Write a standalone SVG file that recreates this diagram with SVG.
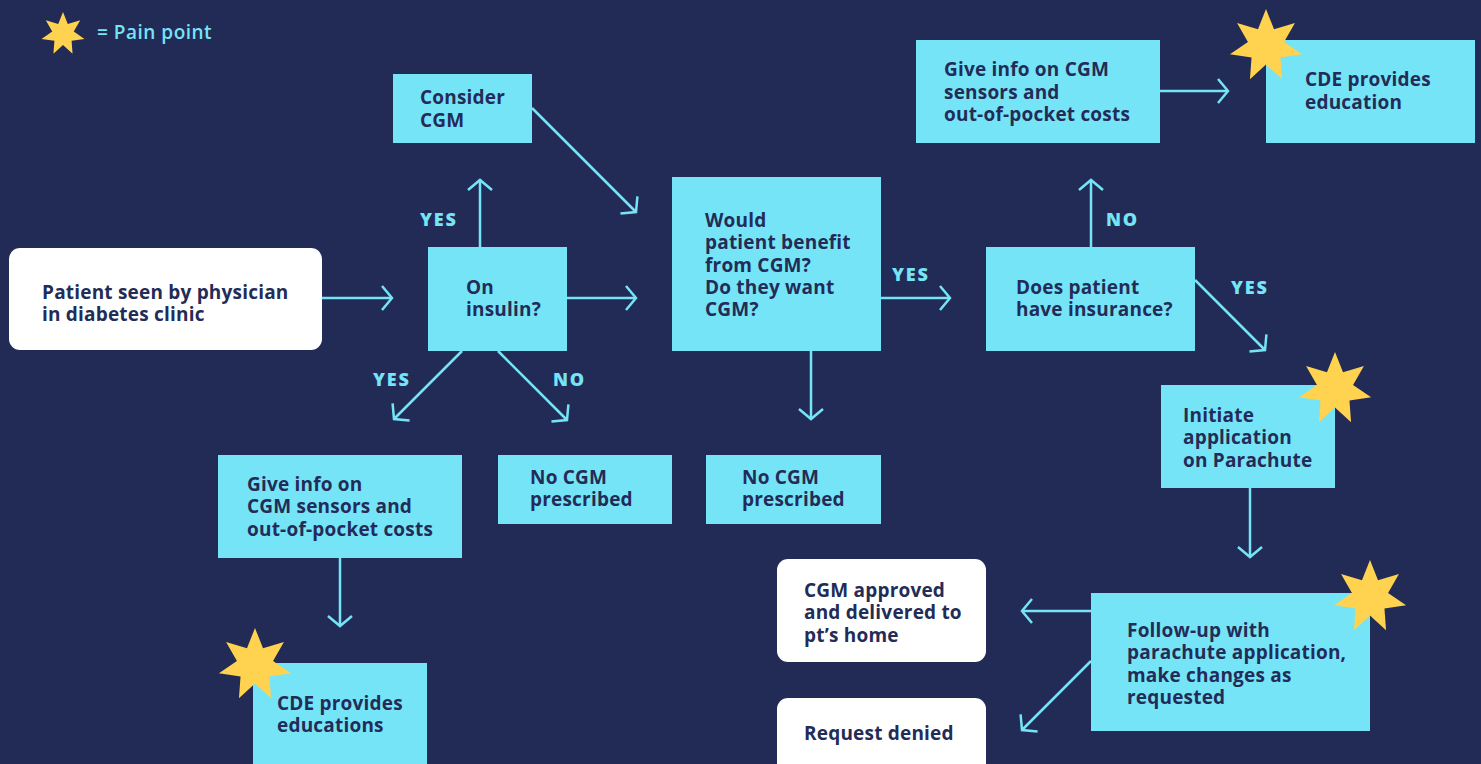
<svg xmlns="http://www.w3.org/2000/svg" width="1481" height="764" viewBox="0 0 1481 764">
  <defs>
    <style>
      .box { fill: #76E4F7; }
      .card { fill: #FFFFFF; }
      .t { font-family: "Open Sans", "Liberation Sans", sans-serif; font-weight: 700; font-size: 19px; letter-spacing: 0.2px; fill: #232C57; }
      .lbl { font-family: "Open Sans", "Liberation Sans", sans-serif; font-weight: 800; font-size: 18px; letter-spacing: 1.8px; fill: #76E4F7; }
      .legend { font-family: "Open Sans", "Liberation Sans", sans-serif; font-weight: 600; font-size: 19px; letter-spacing: 0.5px; fill: #76E4F7; }
      .edge { fill: none; stroke: #76E4F7; stroke-width: 2.5; }
      .star { fill: #FFD24F; }
    </style>
    <marker id="chev" viewBox="-14 -14 28 28" markerWidth="28" markerHeight="28" refX="0" refY="0" orient="auto" markerUnits="userSpaceOnUse">
      <path d="M-10,-12 L0,0 L-10,12" fill="none" stroke="#76E4F7" stroke-width="2.5"/>
    </marker>
    <!-- seven-pointed star, outer radius 1 -->
    <polygon id="star7" points="0,-1 0.217,-0.451 0.782,-0.623 0.488,-0.111 0.975,0.223 0.391,0.312 0.434,0.901 0,0.5 -0.434,0.901 -0.391,0.312 -0.975,0.223 -0.488,-0.111 -0.782,-0.623 -0.217,-0.451"/>
  </defs>

  <rect x="0" y="0" width="1481" height="764" fill="#222B55"/>

  <!-- legend -->
  <g id="legend">
    <use href="#star7" class="star" transform="translate(63,34) scale(22)"/>
    <text class="legend" x="97" y="39">= Pain point</text>
  </g>

  <!-- connectors -->
  <g id="connectors">
    <line class="edge" x1="322" y1="298" x2="392" y2="298" marker-end="url(#chev)"/>
    <line class="edge" x1="567" y1="298" x2="636" y2="298" marker-end="url(#chev)"/>
    <line class="edge" x1="480" y1="247" x2="480" y2="180" marker-end="url(#chev)"/>
    <line class="edge" x1="532" y1="108" x2="636" y2="212" marker-end="url(#chev)"/>
    <line class="edge" x1="462" y1="351" x2="394" y2="419" marker-end="url(#chev)"/>
    <line class="edge" x1="498" y1="351" x2="567" y2="420" marker-end="url(#chev)"/>
    <line class="edge" x1="811" y1="351" x2="811" y2="419" marker-end="url(#chev)"/>
    <line class="edge" x1="881" y1="298" x2="950" y2="298" marker-end="url(#chev)"/>
    <line class="edge" x1="1091" y1="247" x2="1091" y2="180" marker-end="url(#chev)"/>
    <line class="edge" x1="1195" y1="280" x2="1265" y2="350" marker-end="url(#chev)"/>
    <line class="edge" x1="1160" y1="91" x2="1228" y2="91" marker-end="url(#chev)"/>
    <line class="edge" x1="1250" y1="488" x2="1250" y2="557" marker-end="url(#chev)"/>
    <line class="edge" x1="1091" y1="611" x2="1022" y2="611" marker-end="url(#chev)"/>
    <line class="edge" x1="1091" y1="661" x2="1022" y2="730" marker-end="url(#chev)"/>
    <line class="edge" x1="340" y1="558" x2="340" y2="626" marker-end="url(#chev)"/>
    <text class="lbl" x="420" y="226">YES</text>
    <text class="lbl" x="373" y="386">YES</text>
    <text class="lbl" x="553" y="386">NO</text>
    <text class="lbl" x="892" y="281">YES</text>
    <text class="lbl" x="1106" y="226">NO</text>
    <text class="lbl" x="1231" y="294">YES</text>
  </g>

  <g id="n-patient">
    <rect class="card" x="9" y="248" width="313" height="102" rx="11"/>
    <text class="t" x="42" y="299">Patient seen by physician</text>
    <text class="t" x="42" y="321">in diabetes clinic</text>
  </g>

  <g id="n-insulin">
    <rect class="box" x="428" y="247" width="139" height="104"/>
    <text class="t" x="466" y="294">On</text>
    <text class="t" x="466" y="316">insulin?</text>
  </g>

  <g id="n-consider">
    <rect class="box" x="393" y="74" width="139" height="69"/>
    <text class="t" x="420" y="104">Consider</text>
    <text class="t" x="420" y="127">CGM</text>
  </g>

  <g id="n-benefit">
    <rect class="box" x="672" y="177" width="209" height="174"/>
    <text class="t" x="705" y="227">Would</text>
    <text class="t" x="705" y="249">patient benefit</text>
    <text class="t" x="705" y="272">from CGM?</text>
    <text class="t" x="705" y="294">Do they want</text>
    <text class="t" x="705" y="316">CGM?</text>
  </g>

  <g id="n-insurance">
    <rect class="box" x="986" y="247" width="209" height="104"/>
    <text class="t" x="1016" y="294">Does patient</text>
    <text class="t" x="1016" y="316">have insurance?</text>
  </g>

  <g id="n-info-top">
    <rect class="box" x="916" y="40" width="244" height="103"/>
    <text class="t" x="944" y="76">Give info on CGM</text>
    <text class="t" x="944" y="99">sensors and</text>
    <text class="t" x="944" y="121">out-of-pocket costs</text>
  </g>

  <g id="n-cde-top">
    <rect class="box" x="1266" y="40" width="209" height="103"/>
    <text class="t" x="1305" y="86">CDE provides</text>
    <text class="t" x="1305" y="109">education</text>
    <use href="#star7" class="star" transform="translate(1266,46) scale(37)"/>
  </g>

  <g id="n-initiate">
    <rect class="box" x="1161" y="385" width="174" height="103"/>
    <text class="t" x="1183" y="422">Initiate</text>
    <text class="t" x="1183" y="444">application</text>
    <text class="t" x="1183" y="467">on Parachute</text>
    <use href="#star7" class="star" transform="translate(1335,389) scale(37)"/>
  </g>

  <g id="n-followup">
    <rect class="box" x="1091" y="593" width="279" height="138"/>
    <text class="t" x="1127" y="637">Follow-up with</text>
    <text class="t" x="1127" y="659">parachute application,</text>
    <text class="t" x="1127" y="682">make changes as</text>
    <text class="t" x="1127" y="704">requested</text>
    <use href="#star7" class="star" transform="translate(1370,597) scale(37)"/>
  </g>

  <g id="n-approved">
    <rect class="card" x="777" y="559" width="209" height="103" rx="11"/>
    <text class="t" x="804" y="597">CGM approved</text>
    <text class="t" x="804" y="619">and delivered to</text>
    <text class="t" x="804" y="642">pt’s home</text>
  </g>

  <g id="n-denied">
    <rect class="card" x="777" y="698" width="209" height="90" rx="11"/>
    <text class="t" x="804" y="740">Request denied</text>
  </g>

  <g id="n-nocgm-mid">
    <rect class="box" x="706" y="455" width="175" height="69"/>
    <text class="t" x="742" y="484">No CGM</text>
    <text class="t" x="742" y="506">prescribed</text>
  </g>

  <g id="n-nocgm-left">
    <rect class="box" x="498" y="455" width="174" height="69"/>
    <text class="t" x="530" y="484">No CGM</text>
    <text class="t" x="530" y="506">prescribed</text>
  </g>

  <g id="n-info-left">
    <rect class="box" x="218" y="455" width="244" height="103"/>
    <text class="t" x="247" y="491">Give info on</text>
    <text class="t" x="247" y="513">CGM sensors and</text>
    <text class="t" x="247" y="536">out-of-pocket costs</text>
  </g>

  <g id="n-cde-left">
    <rect class="box" x="253" y="663" width="174" height="110"/>
    <text class="t" x="277" y="710">CDE provides</text>
    <text class="t" x="277" y="732">educations</text>
    <use href="#star7" class="star" transform="translate(255,665) scale(37)"/>
  </g>
</svg>
